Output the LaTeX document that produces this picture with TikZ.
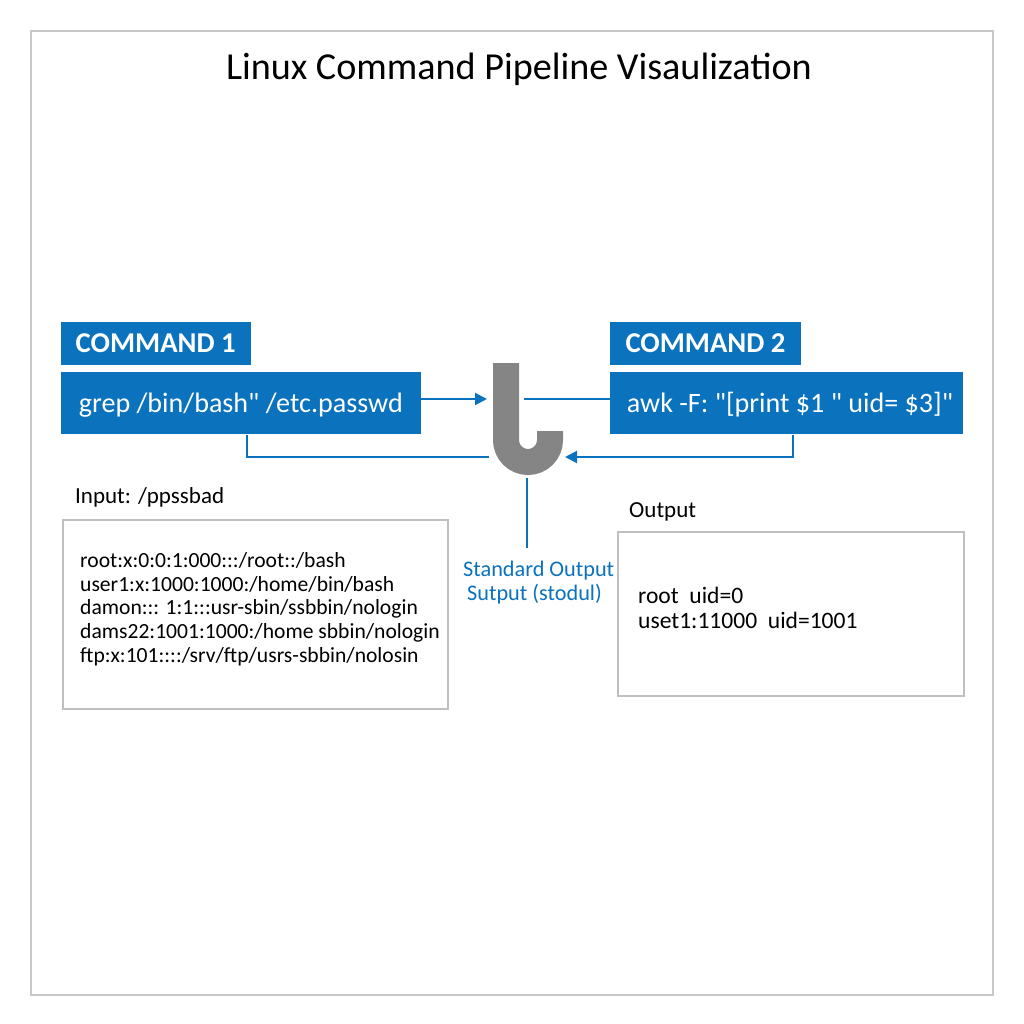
\documentclass[tikz,border=0pt]{standalone}
\usepackage{fontspec}
\setmainfont{Carlito}[Ligatures=TeXOff]
\usetikzlibrary{arrows.meta}
\definecolor{cblue}{HTML}{0B72BD}
\definecolor{pipegray}{HTML}{858585}
\definecolor{boxgray}{HTML}{BFBFBF}
\definecolor{framegray}{HTML}{C8C8C8}
\newsavebox\measbox
\newcommand\calcsize[3]{\sbox\measbox{\normalfont\fontsize{10pt}{12pt}\selectfont #3}\edef\mywd{\the\wd\measbox}\pgfmathsetmacro#1{10*#2/\mywd}}
\newcommand\fsz[1]{\fontsize{#1 pt}{#1 pt}\selectfont}
\tikzset{
  bluebox/.style={fill=cblue, text=white, inner sep=0pt, text depth=0pt},
  gbox/.style={draw=boxgray, line width=2pt, inner sep=0pt, anchor=north west},
  conn/.style={draw=cblue, line width=2pt},
  tip/.style={-{Triangle[length=12pt,width=12pt]}},
  txt/.style={anchor=base west, inner sep=0pt},
}
\begin{document}
\calcsize\szTitle{586}{Linux Command Pipeline Visaulization}%
\calcsize\szCmd{160}{\bfseries COMMAND 1}%
\calcsize\szCode{324}{grep /bin/bash" /etc.passwd}%
\calcsize\szList{314}{user1:x:1000:1000:/home/bin/bash}%
\calcsize\szLab{149}{Input: /ppssbad}%
\calcsize\szStd{151}{Standard Output}%
\calcsize\szOut{214}{uset1:11000 uid=1001}%
\begin{tikzpicture}[x=1pt,y=-1pt]
\useasboundingbox (0,0) rectangle (1024,1024);
\fill[white] (0,0) rectangle (1024,1024);
\draw[framegray, line width=2pt] (31,31) rectangle (993,995);

\node[anchor=base, inner sep=0pt, font=\fsz{\szTitle}] (title) at (519,80) {Linux Command Pipeline Visaulization};

\node[bluebox, text height=18.7pt, minimum width=190, minimum height=43.3, font=\fsz{\szCmd}\bfseries] (c1) at (155.7,343.35) {COMMAND 1};
\node[bluebox, text height=19pt, minimum width=360.3, minimum height=62.6, font=\fsz{\szCode}] (grep) at (240.85,403) {grep /bin/bash" /etc.passwd};
\node[bluebox, text height=18.7pt, minimum width=191, minimum height=43.3, font=\fsz{\szCmd}\bfseries] (c2) at (705.5,343.35) {COMMAND 2};
\node[bluebox, text height=19pt, minimum width=353, minimum height=62.6, font=\fsz{\szCode}] (awk) at (786.5,403) {\hspace*{7pt}awk -F: "[print \$1 " uid= \$3]"};

% pipe symbol
\draw[pipegray, line width=26pt] (506,363) -- (506,440) .. controls (506,452.1) and (515.9,462) .. (528,462) .. controls (540.1,462) and (550,452.1) .. (550,440) -- (550,431);

\coordinate (pin1) at (487,399);
\coordinate (pout1) at (524,399);
\coordinate (pin2) at (489,457);
\coordinate (pin3) at (565,457);
\coordinate (bl) at (247,457);
\coordinate (br) at (793,457);
\coordinate (pout2) at (527,478);
\coordinate (stdo) at (527,548);

\draw[conn, tip] (grep.east |- pin1) -- (pin1);
\draw[conn] (pout1) -- (awk.west |- pout1);
\draw[conn] (grep.south -| bl) |- (pin2);
\draw[conn, tip] (awk.south -| br) |- (pin3);
\draw[conn] (pout2) -- (stdo);

\node[txt, text=cblue, font=\fsz{\szStd}] (std1) at (463,576) {Standard Output};
\node[txt, text=cblue, font=\fsz{\szStd}] (std2) at (467,600) {Sutput (stodul)};

\node[txt, font=\fsz{\szLab}] (inlab) at (75,503) {Input: /ppssbad};
\node[gbox, minimum width=385, minimum height=189] (inbox) at (62,519) {};
\node[txt, font=\fsz{\szList}] (l1) at (80,567) {root:x:0:0:1:000:::/root::/bash};
\node[txt, font=\fsz{\szList}] (l2) at (80,591) {user1:x:1000:1000:/home/bin/bash};
\node[txt, font=\fsz{\szList}] (l3) at (80,614) {damon::: 1:1:::usr-sbin/ssbbin/nologin};
\node[txt, font=\fsz{\szList}] (l4) at (80,638) {dams22:1001:1000:/home sbbin/nologin};
\node[txt, font=\fsz{\szList}] (l5) at (80,662) {ftp:x:101::::/srv/ftp/usrs-sbbin/nolosin};

\node[txt, font=\fsz{\szLab}] (outlab) at (629,517) {Output};
\node[gbox, minimum width=346, minimum height=164] (outbox) at (617,531) {};
\node[txt, font=\fsz{\szOut}] (o1) at (638,603) {root\ \ uid=0};
\node[txt, font=\fsz{\szOut}] (o2) at (638,628) {uset1:11000\ \ uid=1001};
\end{tikzpicture}
\end{document}
